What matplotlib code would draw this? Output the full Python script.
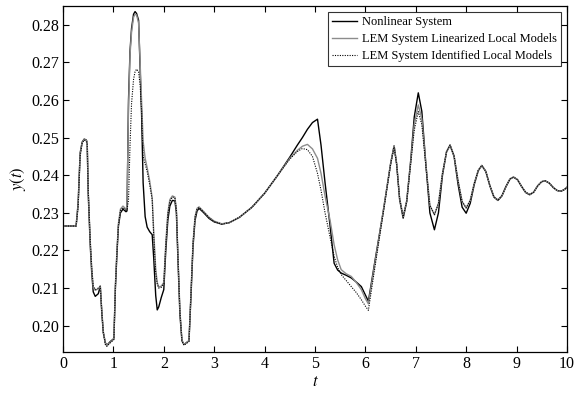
import matplotlib
matplotlib.use("Agg")
import matplotlib.pyplot as plt

plt.rcParams["font.family"] = "Liberation Serif"
plt.rcParams["mathtext.fontset"] = "stix"

t = [0.00, 0.26, 0.30, 0.34, 0.38, 0.42, 0.46, 0.48, 0.50, 0.54,
     0.57, 0.60, 0.64, 0.70, 0.74, 0.77, 0.80, 0.84, 0.87, 0.94,
     1.01, 1.04, 1.07, 1.10, 1.14, 1.19, 1.25, 1.27, 1.30, 1.33,
     1.36, 1.40, 1.43, 1.46, 1.50, 1.53, 1.56, 1.59, 1.63, 1.67,
     1.72, 1.77, 1.80, 1.84, 1.87, 1.90, 1.95, 2.00, 2.04, 2.08,
     2.12, 2.17, 2.22, 2.25, 2.28, 2.32, 2.36, 2.40, 2.50, 2.54,
     2.58, 2.62, 2.66, 2.70, 2.78, 2.90, 3.00, 3.15, 3.30, 3.50,
     3.75, 4.00, 4.25, 4.50, 4.65, 4.75, 4.85, 4.95, 5.05, 5.12,
     5.20, 5.30, 5.38, 5.45, 5.52, 5.62, 5.72, 5.82, 5.92, 6.00,
     6.06, 6.20, 6.35, 6.50, 6.57, 6.62, 6.68, 6.75, 6.82, 6.90,
     6.97, 7.05, 7.12, 7.20, 7.28, 7.37, 7.45, 7.53, 7.61, 7.68,
     7.76, 7.84, 7.92, 8.00, 8.08, 8.16, 8.24, 8.31, 8.39, 8.47,
     8.55, 8.63, 8.71, 8.79, 8.87, 8.94, 9.02, 9.10, 9.18, 9.26,
     9.34, 9.42, 9.50, 9.57, 9.65, 9.73, 9.81, 9.89, 9.95, 10.00]

y_nonlinear = [0.2265, 0.2265, 0.2325, 0.2459, 0.2488, 0.2496, 0.2494, 0.2488, 0.2353, 0.2215,
               0.2141, 0.2090, 0.2078, 0.2085, 0.2105, 0.2034, 0.1981, 0.1955, 0.1948, 0.1958,
               0.1966, 0.2100, 0.2190, 0.2265, 0.2300, 0.2310, 0.2303, 0.2305, 0.2600, 0.2730,
               0.2790, 0.2828, 0.2835, 0.2830, 0.2812, 0.2688, 0.2560, 0.2380, 0.2290, 0.2262,
               0.2250, 0.2242, 0.2180, 0.2080, 0.2042, 0.2050, 0.2075, 0.2096, 0.2200, 0.2280,
               0.2318, 0.2333, 0.2332, 0.2300, 0.2180, 0.2030, 0.1960, 0.1950, 0.1960, 0.2080,
               0.2210, 0.2280, 0.2305, 0.2312, 0.2302, 0.2285, 0.2276, 0.2270, 0.2274, 0.2288,
               0.2315, 0.2352, 0.2398, 0.2448, 0.2480, 0.2500, 0.2522, 0.2540, 0.2549, 0.2480,
               0.2380, 0.2265, 0.2166, 0.2148, 0.2140, 0.2134, 0.2127, 0.2116, 0.2104, 0.2082,
               0.2065, 0.2180, 0.2300, 0.2430, 0.2478, 0.2430, 0.2335, 0.2286, 0.2330, 0.2440,
               0.2555, 0.2619, 0.2570, 0.2430, 0.2300, 0.2255, 0.2300, 0.2400, 0.2462, 0.2480,
               0.2450, 0.2375, 0.2315, 0.2299, 0.2325, 0.2375, 0.2412, 0.2426, 0.2410, 0.2372,
               0.2342, 0.2333, 0.2345, 0.2370, 0.2390, 0.2395, 0.2388, 0.2370, 0.2354, 0.2348,
               0.2355, 0.2372, 0.2383, 0.2385, 0.2379, 0.2367, 0.2359, 0.2358, 0.2362, 0.2368]

y_linearized = [0.2265, 0.2265, 0.2320, 0.2455, 0.2487, 0.2495, 0.2493, 0.2488, 0.2360, 0.2225,
                0.2152, 0.2102, 0.2094, 0.2098, 0.2106, 0.2040, 0.1985, 0.1953, 0.1947, 0.1956,
                0.1965, 0.2110, 0.2200, 0.2272, 0.2310, 0.2318, 0.2310, 0.2315, 0.2580, 0.2720,
                0.2780, 0.2820, 0.2828, 0.2826, 0.2805, 0.2700, 0.2590, 0.2490, 0.2445, 0.2420,
                0.2385, 0.2340, 0.2250, 0.2150, 0.2115, 0.2103, 0.2105, 0.2115, 0.2220, 0.2300,
                0.2335, 0.2345, 0.2342, 0.2310, 0.2190, 0.2040, 0.1962, 0.1950, 0.1960, 0.2090,
                0.2220, 0.2290, 0.2312, 0.2316, 0.2305, 0.2288, 0.2278, 0.2271, 0.2274, 0.2288,
                0.2315, 0.2352, 0.2398, 0.2445, 0.2466, 0.2477, 0.2482, 0.2470, 0.2445, 0.2405,
                0.2345, 0.2280, 0.2215, 0.2175, 0.2149, 0.2138, 0.2131, 0.2115, 0.2096, 0.2072,
                0.2058, 0.2175, 0.2300, 0.2430, 0.2478, 0.2432, 0.2338, 0.2290, 0.2332, 0.2435,
                0.2535, 0.2587, 0.2550, 0.2430, 0.2320, 0.2295, 0.2325, 0.2405, 0.2462, 0.2480,
                0.2452, 0.2385, 0.2330, 0.2313, 0.2333, 0.2378, 0.2413, 0.2426, 0.2410, 0.2373,
                0.2343, 0.2334, 0.2346, 0.2370, 0.2390, 0.2395, 0.2388, 0.2370, 0.2355, 0.2349,
                0.2355, 0.2372, 0.2383, 0.2385, 0.2379, 0.2367, 0.2359, 0.2358, 0.2362, 0.2368]

y_identified = [0.2265, 0.2265, 0.2315, 0.2450, 0.2485, 0.2494, 0.2490, 0.2484, 0.2365, 0.2230,
                0.2155, 0.2105, 0.2096, 0.2100, 0.2104, 0.2038, 0.1983, 0.1950, 0.1945, 0.1955,
                0.1963, 0.2105, 0.2195, 0.2268, 0.2306, 0.2314, 0.2307, 0.2308, 0.2334, 0.2480,
                0.2590, 0.2655, 0.2675, 0.2682, 0.2675, 0.2640, 0.2570, 0.2450, 0.2430, 0.2410,
                0.2375, 0.2335, 0.2240, 0.2140, 0.2110, 0.2100, 0.2102, 0.2112, 0.2215, 0.2295,
                0.2330, 0.2342, 0.2340, 0.2310, 0.2190, 0.2040, 0.1960, 0.1948, 0.1958, 0.2090,
                0.2220, 0.2288, 0.2310, 0.2314, 0.2304, 0.2287, 0.2277, 0.2270, 0.2274, 0.2288,
                0.2315, 0.2352, 0.2398, 0.2443, 0.2463, 0.2471, 0.2468, 0.2450, 0.2405, 0.2360,
                0.2300, 0.2235, 0.2185, 0.2155, 0.2136, 0.2120, 0.2104, 0.2088, 0.2069, 0.2052,
                0.2041, 0.2165, 0.2295, 0.2428, 0.2475, 0.2430, 0.2338, 0.2290, 0.2330, 0.2430,
                0.2520, 0.2569, 0.2535, 0.2425, 0.2320, 0.2295, 0.2325, 0.2405, 0.2462, 0.2480,
                0.2452, 0.2385, 0.2330, 0.2313, 0.2333, 0.2378, 0.2413, 0.2426, 0.2410, 0.2373,
                0.2343, 0.2334, 0.2346, 0.2370, 0.2390, 0.2395, 0.2388, 0.2370, 0.2355, 0.2349,
                0.2355, 0.2372, 0.2383, 0.2385, 0.2379, 0.2367, 0.2359, 0.2358, 0.2362, 0.2368]

labels = ["Nonlinear System",
          "LEM System Linearized Local Models",
          "LEM System Identified Local Models"]

fig = plt.figure(figsize=(5.86, 3.96), dpi=100)
ax = fig.add_axes([0.1075, 0.111, 0.860, 0.874])

ax.plot(t, y_nonlinear, color="black", lw=1.0, label=labels[0])
ax.plot(t, y_linearized, color="#8c8c8c", lw=1.0, label=labels[1])
ax.plot(t, y_identified, color="black", lw=0.8, ls=(0, (1, 1.2)), label=labels[2])

ax.set_xlim(0, 10)
ax.set_ylim(0.193, 0.285)
ax.set_xticks(range(0, 11))
ax.set_yticks([0.20, 0.21, 0.22, 0.23, 0.24, 0.25, 0.26, 0.27, 0.28])
ax.set_yticklabels(["0.20", "0.21", "0.22", "0.23", "0.24", "0.25", "0.26", "0.27", "0.28"])
ax.tick_params(direction="in", top=True, right=True, length=4, width=0.8,
               labelsize=11.5, pad=3)
for s in ax.spines.values():
    s.set_linewidth(0.9)

ax.set_xlabel("$t$", fontsize=12, labelpad=1)
ax.set_ylabel("$y(t)$", fontsize=12, labelpad=2)

leg = ax.legend(loc="upper right", fontsize=9, frameon=True, fancybox=False,
                handlelength=2.0, handletextpad=0.4, borderpad=0.3,
                labelspacing=0.42, borderaxespad=0.5)
leg.get_frame().set_edgecolor("black")
leg.get_frame().set_linewidth(0.8)

fig.savefig("out.png", dpi=100)
plt.close(fig)
